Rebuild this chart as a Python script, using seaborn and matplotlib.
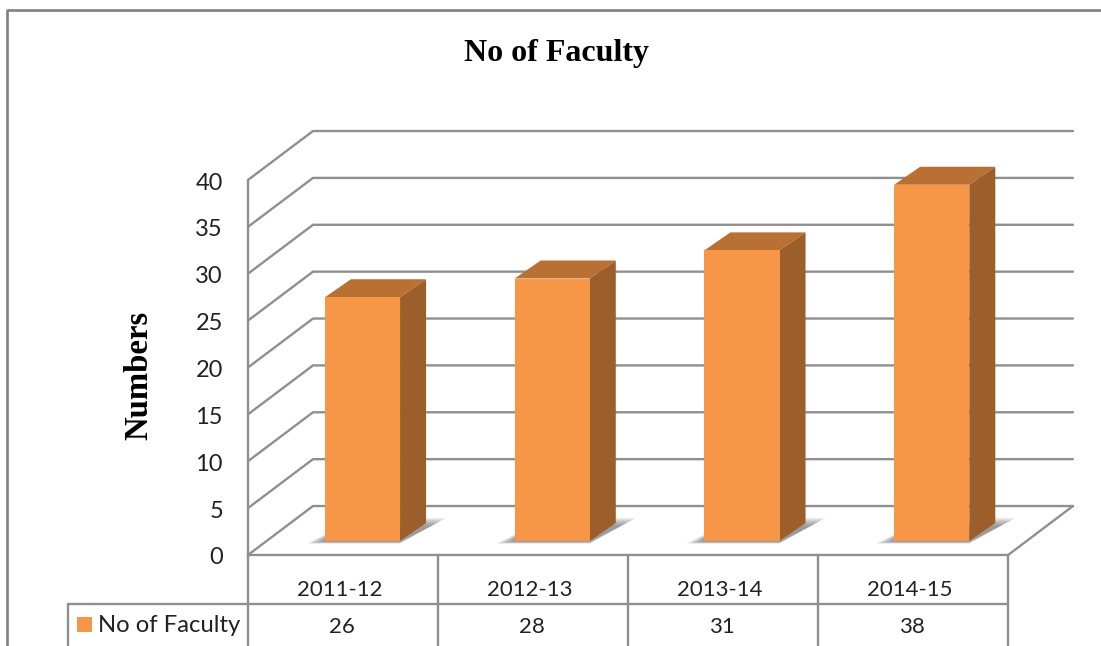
import matplotlib
matplotlib.use('Agg')
import matplotlib.pyplot as plt
import seaborn as sns
from matplotlib.patches import Polygon

# data
years = ['2011-12', '2012-13', '2013-14', '2014-15']
faculty = [26, 28, 31, 38]
ticks = [0, 5, 10, 15, 20, 25, 30, 35, 40]

W, H = 1101, 646
GRAY = '#8f8f8f'
ORANGE = '#F79646'
SIDE = '#9C5F2B'
TOP = '#B97033'
LW = 1.7

sns.set_theme(style='white')
plt.rcParams['font.family'] = ['Lato', 'DejaVu Sans']

fig = plt.figure(figsize=(W / 100, H / 100), dpi=100)


def box(left, top, right, bottom):
    return [left / W, 1 - bottom / H, (right - left) / W, (bottom - top) / H]


# pixel overlay for the frame, title and data table
bg = fig.add_axes([0, 0, 1, 1])
bg.set_xlim(0, W)
bg.set_ylim(H, 0)
bg.axis('off')
bg.plot([7, 7, W], [H, 10, 10], color='#808080', lw=1.9)
bg.text(556, 53, 'No of Faculty', family='Liberation Serif', weight='bold',
        fontsize=23, ha='center', va='center', color='black')
bg.text(139, 375, 'Numbers', family='Liberation Serif', weight='bold',
        fontsize=23.6, rotation=90, ha='center', va='center', color='black')

# table lines
col_x = [248, 438, 628, 818, 1008]
for x in col_x:
    bg.plot([x, x], [555, H], color=GRAY, lw=LW)
bg.plot([68, 1008], [604, 604], color=GRAY, lw=LW)
bg.plot([68, 68], [604, H], color=GRAY, lw=LW)
for i, (yr, val) in enumerate(zip(years, faculty)):
    cx = (col_x[i] + col_x[i + 1]) / 2 - 3
    bg.text(cx, 590, yr, fontsize=16, ha='center', va='center', color='#222222')
    bg.text(cx + 2, 627, str(val), fontsize=16, ha='center', va='center', color='#222222')
bg.add_patch(Polygon([(77, 617), (92, 617), (92, 632), (77, 632)], color=ORANGE, lw=0))
bg.text(98, 625, 'No of Faculty', fontsize=17.2, ha='left', va='center', color='#222222')

# front plane only carries the value axis
front = fig.add_axes(box(248, 181, 1008, 556))
front.patch.set_alpha(0)
front.set_ylim(0, 40)
front.set_xticks([])
front.set_yticks(ticks)
front.set_yticklabels([str(t) for t in ticks], fontsize=17, color='#222222')
front.tick_params(axis='y', length=0, pad=18)
for name, spine in front.spines.items():
    spine.set_visible(name == 'left')
    spine.set_color(GRAY)
    spine.set_linewidth(LW)

# bars sit in their own plane, half way back on the floor
ax = fig.add_axes(box(267.6, 166, 1026.6, 541))
ax.patch.set_alpha(0)
bar_w = 0.396
sns.barplot(x=years, y=faculty, color=ORANGE, saturation=1, width=bar_w, ax=ax, zorder=5,
            edgecolor='none', linewidth=0)
ax.set_xlim(-0.5, 3.5)
ax.set_ylim(0, 40)
ax.axis('off')

depth_x = 26 / 189.75
depth_y = 18 / 9.375

# wall corners in bar plane units
fl, fr = -0.6033, 3.4027
bl, br = -0.2607, 3.7443
fy, by = -1.49, 3.73
for t in ticks:
    ax.plot([fl, bl, br], [t + fy, t + by, t + by], color=GRAY, lw=LW, clip_on=False, zorder=1)
ax.plot([fl, fr, br], [fy, fy, by], color=GRAY, lw=LW, clip_on=False, zorder=1)

for i, val in enumerate(faculty):
    l, r = i - bar_w / 2, i + bar_w / 2
    # soft floor shadow, layered so it fades outwards
    for k in range(8):
        g = 0.012 * (8 - k)
        low = -0.28 + k * 0.03
        high = depth_y + 0.55 - k * 0.12
        ax.add_patch(Polygon([(l - g, low), (r, low),
                              (r + depth_x + g * 0.9 + 0.02, high),
                              (r + depth_x - 0.02, high),
                              (l, 0.7 - k * 0.06)],
                             facecolor='#555555', alpha=0.1, lw=0, clip_on=False, zorder=2))
    ax.add_patch(Polygon([(l, val), (r, val), (r + depth_x, val + depth_y), (l + depth_x, val + depth_y)],
                         facecolor=TOP, lw=0, clip_on=False, zorder=4))
    ax.add_patch(Polygon([(r, 0), (r + depth_x, depth_y), (r + depth_x, val + depth_y), (r, val)],
                         facecolor=SIDE, lw=0, clip_on=False, zorder=4))

fig.savefig('out.png', dpi=100)
